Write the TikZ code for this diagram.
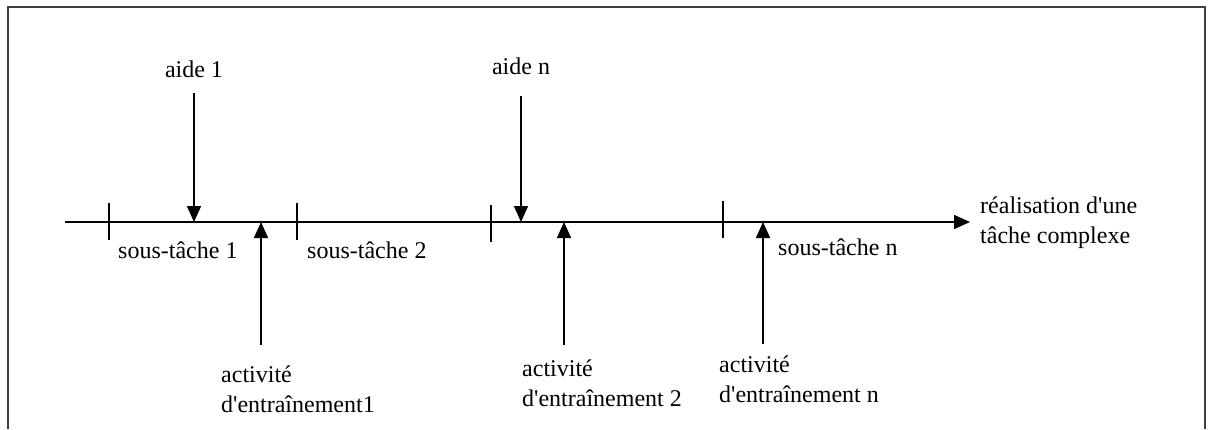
\documentclass[tikz,border=0pt]{standalone}
\usepackage{fontspec}
\setmainfont{Liberation Serif}[Ligatures=TeXOff]
\usetikzlibrary{arrows.meta}
\begin{document}
\begin{tikzpicture}[x=1pt,y=-1pt,
  outline/.style={draw=#1,line width=1.5pt},
  flow/.style={outline=black,-{Triangle[width=14pt,length=16pt]}},
  tickmark/.style={outline=black},
  lbl/.style={inner sep=0pt,font=\fontsize{24}{30}\selectfont,align=left}]
\useasboundingbox (0,0) rectangle (1212,429);
\draw[draw=black!75,line width=1.8pt] (8,429) -- (8,7) -- (1205,7) -- (1205,429);
% time axis
\coordinate (start) at (65,222);
\node[lbl,anchor=base west] (goal) at (980,243) {réalisation d'une\\tâche complexe};
\draw[flow] (start) -- ([xshift=-10pt]goal.west |- start);
\foreach \x/\a/\b in {109/203/240,297/203/240,491/205/242,723/201/238}
  \draw[tickmark] (\x,\a) -- (\x,\b);
% sub-tasks
\node[lbl,anchor=base west] (st1) at (118,258) {sous-tâche 1};
\node[lbl,anchor=base west] (st2) at (307,258) {sous-tâche 2};
\node[lbl,anchor=base west] (stn) at (778,255) {sous-tâche n};
% help
\node[lbl,anchor=base] (aide1) at (194,77) {aide 1};
\node[lbl,anchor=base] (aiden) at (521,74) {aide n};
\draw[flow] ([yshift=-16pt]aide1.base) -- (aide1.base |- start);
\draw[flow] ([yshift=-22pt]aiden.base) -- (aiden.base |- start);
% training activities
\node[lbl,anchor=base west] (act1) at (221,412) {activité\\d'entraînement1};
\node[lbl,anchor=base west] (act2) at (522,406) {activité\\d'entraînement 2};
\node[lbl,anchor=base west] (actn) at (719,402) {activité\\d'entraînement n};
\coordinate (u1) at (261,345);
\coordinate (u2) at (564,345);
\coordinate (un) at (763,344);
\foreach \u in {u1,u2,un}
  \draw[flow] (\u) -- (\u |- start);
\end{tikzpicture}
\end{document}
